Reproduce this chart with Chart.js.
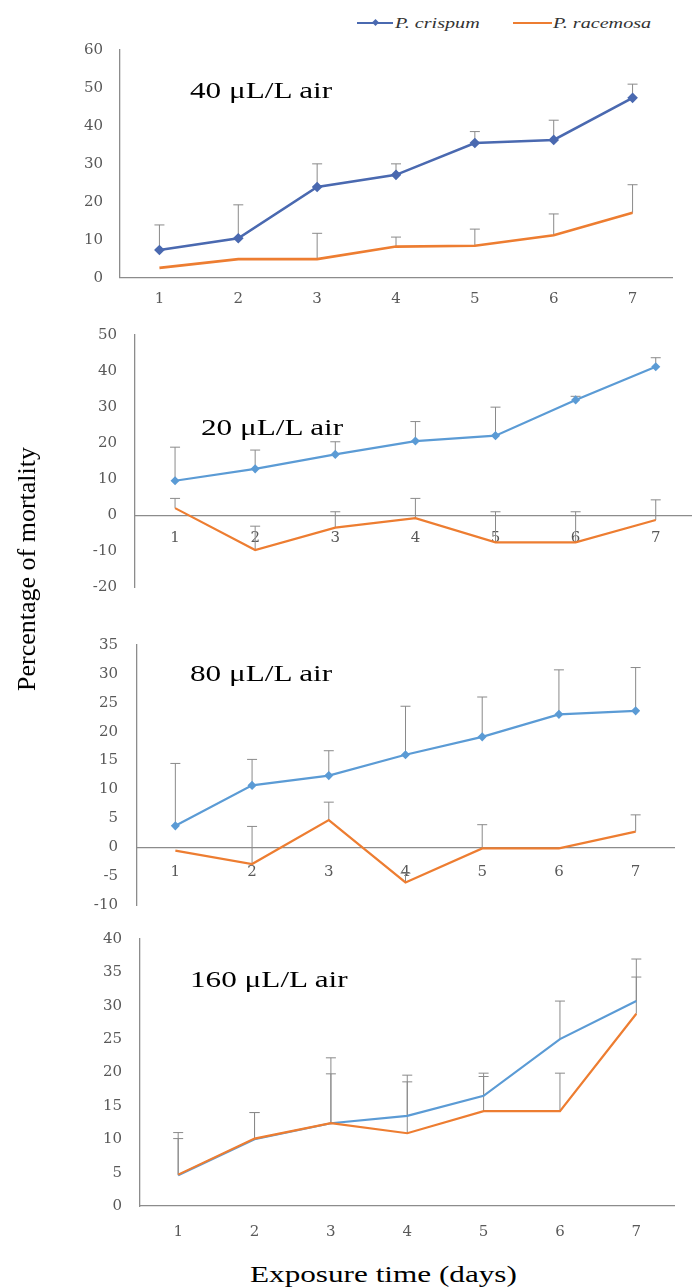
<!DOCTYPE html>
<html>
<head>
<meta charset="utf-8">
<script src="https://cdn.jsdelivr.net/npm/chart.js@4.4.1/dist/chart.umd.min.js"></script>
<style>
  body { margin: 0; width: 692px; height: 1287px; overflow: hidden; background: #fff; position: relative; }
  canvas { position: absolute; left: 0; }
  .txt { position: absolute; font-family: 'Liberation Serif', 'Times New Roman', serif; color: #000; white-space: nowrap; line-height: 24px; font-size: 24px; transform: scaleX(1.3); transform-origin: left center; }
  .ytitle { position: absolute; font-family: 'Liberation Serif', serif; font-size: 26px; line-height: 26px; white-space: nowrap; left: 27px; top: 569px; transform: translate(-50%, -50%) rotate(-90deg); }
  .legend { position: absolute; top: 14px; height: 18px; font-family: 'Liberation Serif', serif; font-style: italic; font-size: 15.5px; line-height: 18px; color: #333; }
  .legend span { position: absolute; white-space: nowrap; }
  .swatch { position: absolute; height: 2px; top: 8px; }
  .diamond { position: absolute; width: 5px; height: 5px; top: 6px; background: #4a69b0; transform: rotate(45deg); }
</style>
</head>
<body>
<div class="legend" style="left:0;width:692px">
  <div class="swatch" style="left:357px;width:36px;background:#4a69b0"></div>
  <div class="diamond" style="left:373px"></div>
  <span style="left:395px;transform:scaleX(1.3);transform-origin:left">P. crispum</span>
  <div class="swatch" style="left:513px;width:39px;background:#ed7d31"></div>
  <span style="left:553px;transform:scaleX(1.3);transform-origin:left">P. racemosa</span>
</div>

<!-- canvas tops account for the y-axis label padding that Chart.js adds above/below the plot -->
<canvas id="c1" width="692" height="286" style="top:24px"></canvas>
<canvas id="c2" width="702" height="307" style="top:308px"></canvas>
<canvas id="c3" width="692" height="316" style="top:617px"></canvas>
<canvas id="c4" width="692" height="328" style="top:912px"></canvas>

<div class="txt" style="left:190px;top:78px">40 μL/L air</div>
<div class="txt" style="left:201px;top:415px">20 μL/L air</div>
<div class="txt" style="left:190px;top:661px">80 μL/L air</div>
<div class="txt" style="left:190px;top:967px">160 μL/L air</div>
<div class="txt" style="left:250px;top:1262px">Exposure time (days)</div>
<div class="ytitle">Percentage of mortality</div>

<script>
// exposure days
const days = ['1', '2', '3', '4', '5', '6', '7'];

// 40 uL/L air
const crispum40 = [7.3, 10.4, 23.9, 27.1, 35.5, 36.3, 47.4];
const crispum40Err = [13.9, 19.2, 30, 30, 38.5, 41.5, 51];
const racemosa40 = [2.6, 4.9, 4.9, 8.2, 8.4, 11.2, 17.1];
const racemosa40Err = [2.6, 4.9, 11.7, 10.7, 12.8, 16.8, 24.5];

// 20 uL/L air
const crispum20 = [9.6, 12.9, 16.9, 20.6, 22.1, 32, 41.2];
const crispum20Err = [18.9, 18.1, 20.4, 26, 30, 33, 43.7];
const racemosa20 = [2, -9.6, -3.4, -0.8, -7.5, -7.5, -1.3];
const racemosa20Err = [4.7, -3, 1, 4.7, 1, 1, 4.3];

// 80 uL/L air
const crispum80 = [3.7, 10.7, 12.4, 16, 19.1, 23, 23.6];
const crispum80Err = [14.5, 15.2, 16.7, 24.4, 26, 30.7, 31.1];
const racemosa80 = [-0.6, -2.9, 4.7, -6.1, -0.2, -0.2, 2.7];
const racemosa80Err = [-0.6, 3.6, 7.8, -4.5, 3.9, -0.2, 5.6];

// 160 uL/L air
const crispum160 = [4.6, 10, 12.4, 13.5, 16.5, 25, 30.7];
const crispum160Err = [11, 14, 22.2, 19.6, 19.9, 30.7, 37];
const racemosa160 = [4.7, 10.1, 12.4, 10.9, 14.2, 14.2, 28.8];
const racemosa160Err = [10.1, 14, 19.8, 18.6, 19.4, 19.9, 34.3];

const ORANGE = '#ed7d31';
const AXIS = '#8c8c8c';
const TICK_FONT = { family: "'DejaVu Serif', serif", size: 15 };

// upper error bars, drawn under the lines
const errorBars = {
    id: 'errorBars',
    beforeDatasetsDraw(chart) {
        const ctx = chart.ctx;
        const y = chart.scales.y;
        chart.data.datasets.forEach((ds, i) => {
            if (!ds.errUp) return;
            const meta = chart.getDatasetMeta(i);
            ctx.save();
            ctx.strokeStyle = '#8a8a8a';
            ctx.lineWidth = 1;
            meta.data.forEach((pt, k) => {
                const top = y.getPixelForValue(ds.errUp[k]);
                if (Math.abs(top - pt.y) < 1) return;
                ctx.beginPath();
                ctx.moveTo(pt.x, pt.y);
                ctx.lineTo(pt.x, top);
                ctx.moveTo(pt.x - 5, top);
                ctx.lineTo(pt.x + 5, top);
                ctx.stroke();
            });
            ctx.restore();
        });
    }
};

function makePanel(id, crisp, crispErr, race, raceErr, o) {
    const xScale = {
        type: 'category',
        offset: true,
        grid: { display: false, drawTicks: false },
        border: { display: true, color: AXIS, width: 1.3 },
        ticks: { color: '#595959', font: TICK_FONT, padding: o.xPad, maxRotation: 0 }
    };
    if (o.xAtZero) {
        xScale.position = { y: 0 };
    } else {
        xScale.position = 'bottom';
        xScale.afterFit = s => { s.height = 30; };
    }

    return new Chart(document.getElementById(id), {
        type: 'line',
        data: {
            labels: days,
            datasets: [{
                label: 'P. crispum',
                data: crisp,
                errUp: crispErr,
                borderColor: o.blue,
                backgroundColor: o.blue,
                borderWidth: o.lineW,
                pointStyle: 'rectRot',
                pointRadius: o.pointR,
                tension: 0,
                order: 1
            }, {
                label: 'P. racemosa',
                data: race,
                errUp: raceErr,
                borderColor: ORANGE,
                backgroundColor: ORANGE,
                borderWidth: o.lineW,
                pointRadius: 0,
                tension: 0,
                order: 0
            }]
        },
        options: {
            responsive: false,
            animation: false,
            layout: { padding: o.padding },
            plugins: { legend: { display: false }, tooltip: { enabled: false } },
            scales: {
                x: xScale,
                y: {
                    min: o.min,
                    max: o.max,
                    grid: { display: false, drawTicks: false },
                    border: { display: true, color: AXIS, width: 1.3 },
                    ticks: { stepSize: o.step, color: '#595959', font: TICK_FONT, padding: o.yPad },
                    afterFit: s => { s.width = o.yWidth; }
                }
            }
        },
        plugins: [errorBars]
    });
}

makePanel('c1', crispum40, crispum40Err, racemosa40, racemosa40Err, {
    blue: '#4a69b0', lineW: 2.6, pointR: 3.5, min: 0, max: 60, step: 10,
    yWidth: 120, yPad: 17, xPad: 12, xAtZero: false,
    padding: { top: 0, right: 20, bottom: 2.3, left: 0 }
});

makePanel('c2', crispum20, crispum20Err, racemosa20, racemosa20Err, {
    blue: '#5b9bd5', lineW: 2.2, pointR: 3, min: -20, max: 50, step: 10,
    yWidth: 135, yPad: 18, xPad: 14, xAtZero: true,
    padding: { top: 0, right: 4, bottom: 27.5, left: 0 }
});

makePanel('c3', crispum80, crispum80Err, racemosa80, racemosa80Err, {
    blue: '#5b9bd5', lineW: 2.2, pointR: 3, min: -10, max: 35, step: 5,
    yWidth: 137, yPad: 19, xPad: 15.5, xAtZero: true,
    padding: { top: 0, right: 18, bottom: 0, left: 0 }
});

makePanel('c4', crispum160, crispum160Err, racemosa160, racemosa160Err, {
    blue: '#5b9bd5', lineW: 2.2, pointR: 0, min: 0, max: 40, step: 5,
    yWidth: 140, yPad: 18, xPad: 17, xAtZero: false,
    padding: { top: 0, right: 17.5, bottom: 4, left: 0 }
});
</script>
</body>
</html>
